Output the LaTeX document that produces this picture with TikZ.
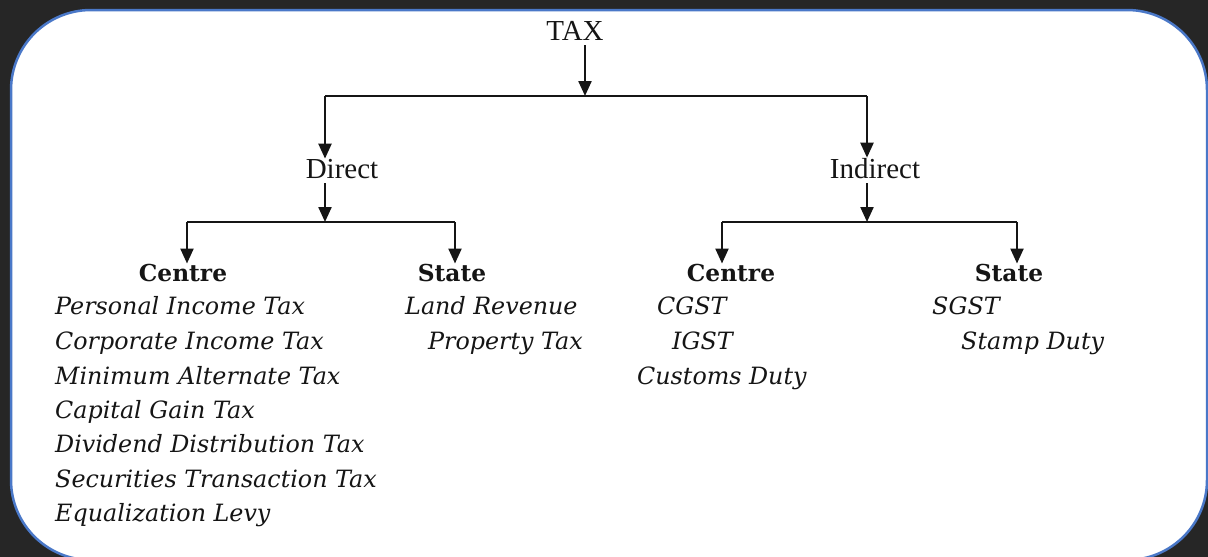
\documentclass[tikz,border=0pt]{standalone}
\usepackage{fontspec}
\setmainfont{Liberation Serif}
\newfontfamily\itemfont{DejaVu Serif}
\usetikzlibrary{arrows.meta}
\definecolor{bgdark}{HTML}{262626}
\definecolor{panelblue}{HTML}{4A78C8}
\definecolor{ink}{HTML}{151515}
\tikzset{
  lvl/.style={inner sep=0pt, text=ink, font=\fontsize{29}{32}\selectfont},
  headtext/.style={inner sep=0pt, text=ink, font=\itemfont\bfseries\fontsize{23.3}{26}\selectfont},
  itemtext/.style={inner sep=0pt, text=ink, anchor=base west, font=\itemfont\itshape\fontsize{23.8}{27}\selectfont},
  conn/.style={line width=2.3pt, draw=ink},
  arr/.style={conn, -{Triangle[length=15pt,width=13pt]}},
}
\begin{document}
\begin{tikzpicture}[x=1pt,y=-1pt]
\useasboundingbox (0,0) rectangle (1208,557);
\fill[bgdark] (0,0) rectangle (1208,557);
\begin{scope}
\clip (0,0) rectangle (1208,557);
\draw[line width=2.5pt, draw=panelblue, fill=white, rounded corners=80pt] (11,10) rectangle (1207,560);
\end{scope}

% level nodes
\node[lvl, anchor=base] (tax) at (575,40) {TAX};
\node[lvl, anchor=base] (direct) at (342,178) {Direct};
\node[lvl, anchor=base] (indirect) at (875,178) {Indirect};

\node[headtext, anchor=base] (dc) at (183,281) {Centre};
\node[headtext, anchor=base] (ds) at (452,281) {State};
\node[headtext, anchor=base] (ic) at (731,281) {Centre};
\node[headtext, anchor=base] (is) at (1009,281) {State};

% direct centre items
\node[itemtext] (d1) at (55,314) {Personal Income Tax};
\node[itemtext] (d2) at (55,349) {Corporate Income Tax};
\node[itemtext] (d3) at (55,384) {Minimum Alternate Tax};
\node[itemtext] (d4) at (55,418) {Capital Gain Tax};
\node[itemtext] (d5) at (55,452) {Dividend Distribution Tax};
\node[itemtext] (d6) at (55,487) {Securities Transaction Tax};
\node[itemtext] (d7) at (55,521) {Equalization Levy};
% direct state items
\node[itemtext] (s1) at (405,314) {Land Revenue};
\node[itemtext] (s2) at (428,349) {Property Tax};
% indirect centre items
\node[itemtext] (c1) at (657,314) {CGST};
\node[itemtext] (c2) at (672,349) {IGST};
\node[itemtext] (c3) at (637,384) {Customs Duty};
% indirect state items
\node[itemtext] (t1) at (932,314) {SGST};
\node[itemtext] (t2) at (961,349) {Stamp Duty};

% junctions
\coordinate (j0) at (585,96);
\coordinate (jd) at (325,96);
\coordinate (ji) at (867,96);
\coordinate (jd2) at (325,222);
\coordinate (ji2) at (867,222);
\coordinate (jdc) at (187,222);
\coordinate (jds) at (455,222);
\coordinate (jic) at (722,222);
\coordinate (jis) at (1017,222);

% connectors
\draw[arr, shorten <=5pt] (tax.south -| j0) -- (j0);
\draw[conn] (jd) -- (ji);
\draw[arr] (jd) -- (jd |- direct.north);
\draw[arr] (ji) -- (ji |- indirect.north);

\draw[arr, shorten <=5pt] (direct.south -| jd2) -- (jd2);
\draw[conn] (jdc) -- (jds);
\draw[arr] (jdc) -- (jdc |- dc.north);
\draw[arr] (jds) -- (jds |- ds.north);

\draw[arr, shorten <=5pt] (indirect.south -| ji2) -- (ji2);
\draw[conn] (jic) -- (jis);
\draw[arr] (jic) -- (jic |- ic.north);
\draw[arr] (jis) -- (jis |- is.north);
\end{tikzpicture}
\end{document}
